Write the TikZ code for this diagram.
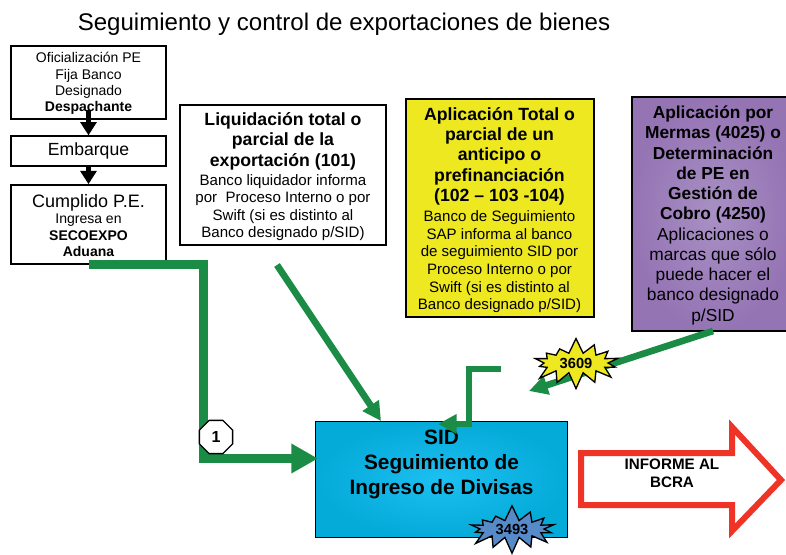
\documentclass[tikz,border=0pt]{standalone}
\usepackage{fontspec}
\setmainfont{Liberation Sans}
\usetikzlibrary{shapes.geometric,shapes.symbols,arrows.meta}
\definecolor{verde}{HTML}{1B8C45}
\definecolor{rojo}{HTML}{EF3327}
\definecolor{amarillo}{HTML}{EEE820}
\newcommand{\chica}{\fontsize{10.5}{12.3}\selectfont}
\newcommand{\media}{\fontsize{11.3}{13.2}\selectfont}
\newcommand{\grande}{\fontsize{13}{15.2}\selectfont}
\newcommand{\gb}[1]{{\fontsize{13.25}{15.2}\selectfont\bfseries #1}}
\begin{document}
\begin{tikzpicture}[x=0.75pt,y=-0.75pt]
    \tikzstyle{caja}=[rectangle,draw=black,line width=1.5pt,fill=white,inner sep=0pt,align=center]
    \tikzstyle{estrella}=[starburst,draw=black,line width=1pt,inner sep=0pt,starburst points=14,starburst point height=12pt,random starburst=7,font=\fontsize{11}{13}\selectfont\bfseries]
    \tikzstyle{flecha}=[draw=verde,line width=5pt,-{Triangle[length=14pt,width=14pt]}]
    \tikzstyle{negra}=[line width=3.2pt,-{Triangle[length=10pt,width=12pt]}]
    \useasboundingbox (0,0) rectangle (786,554);
    \node (titulo) at (344,24) {\fontsize{18.05}{21}\selectfont Seguimiento y control de exportaciones de bienes};
    \node (oficial)[caja,minimum width=116pt,minimum height=55pt,font=\chica] at (88.5,82.5) {\rule{0pt}{9.5pt}Oficialización PE\\Fija Banco\\Designado\\\textbf{Despachante}};
    \node (embarque)[caja,minimum width=116pt,minimum height=22pt,font=\fontsize{13.2}{15}\selectfont] at (88.5,151) {\raisebox{-1pt}{Embarque}};
    \node (cumplido)[caja,minimum width=116pt,minimum height=59pt,font=\chica] at (88.5,224.5) {\rule{0pt}{11.5pt}{\fontsize{13.5}{15}\selectfont Cumplido P.E.}\\Ingresa en\\\textbf{SECOEXPO}\\\textbf{Aduana}};
    \node (liquidacion)[caja,minimum width=155pt,minimum height=105pt,font=\media] at (283,174.5) {\rule{0pt}{13pt}\gb{Liquidación total o}\\[2.2pt]\gb{parcial de la}\\[2.2pt]\gb{exportación (101)}\\[0.8pt]Banco liquidador informa\\por\ \ Proceso Interno o por\\Swift (si es distinto al\\Banco designado p/SID)};
    \node (anticipo)[caja,fill=amarillo,minimum width=141pt,minimum height=163pt,font=\media] at (499.5,208) {\rule{0pt}{13pt}\gb{Aplicación Total o}\\[2pt]\gb{parcial de un}\\[2pt]\gb{anticipo o}\\[2pt]\gb{prefinanciación}\\[2pt]\gb{(102 -- 103 -104)}\\[2pt]Banco de Seguimiento\\SAP informa al banco\\de seguimiento SID por\\Proceso Interno o por\\Swift (si es distinto al\\Banco designado p/SID)};
    \node (mermas)[caja,shade,inner color={rgb,255:red,168;green,144;blue,196},outer color={rgb,255:red,149;green,116;blue,180},minimum width=121pt,minimum height=175pt,font=\grande] at (713,214) {\rule{0pt}{11.5pt}\textbf{Aplicación por}\\\textbf{Mermas (4025) o}\\\textbf{Determinación}\\\textbf{de PE en}\\\textbf{Gestión de}\\\textbf{Cobro (4250)}\\Aplicaciones o\\marcas que sólo\\puede hacer el\\banco designado\\p/SID};
    \node (sid)[caja,line width=1pt,shade,inner color={rgb,255:red,28;green,192;blue,242},outer color={rgb,255:red,4;green,170;blue,216},minimum width=189pt,minimum height=87pt,font=\fontsize{15.6}{18.8}\selectfont\bfseries] at (441.5,479.5) {SID\\Seguimiento de\\Ingreso de Divisas\\[7pt]\mbox{}};
    \draw [rojo,line width=4.5pt,fill=white,miter limit=10] (581,453) -- (732,453) -- (732,427) -- (781,480) -- (732,531) -- (732,505) -- (581,505) -- cycle;
    \node (informe)[align=center,font=\fontsize{11.4}{13.5}\selectfont\bfseries] at (672,473) {INFORME AL\\BCRA};
    % flechas negras
    \coordinate (oficial1) at (88.5,110);
    \draw [negra] (oficial1) -- (embarque.north);
    \draw [negra] (embarque.south) -- (cumplido.north);
    % flechas verdes
    \coordinate (giro) at (203.5,458.5);
    \coordinate (sid1) at (318,458.5);
    \coordinate (liq1) at (277,265);
    \coordinate (sid2) at (381,421);
    \coordinate (anticipo1) at (501,369);
    \coordinate (anticipo2) at (469,424);
    \coordinate (sid3) at (438,424);
    \coordinate (mermas1) at (713,331);
    \coordinate (mermas2) at (529,391);
    \draw [flecha,line width=6.8pt,-{Triangle[length=20pt,width=21pt]}] (cumplido.south) -| (giro) -- (sid1);
    \draw [flecha] (liq1) -- (sid2);
    \draw [flecha] (anticipo1) -| (anticipo2) -- (sid3);
    \draw [flecha] (mermas1) -- (mermas2);
    \node (uno)[regular polygon,regular polygon sides=8,draw=black,line width=1pt,fill=white,inner sep=0pt,minimum size=27pt,font=\fontsize{12}{14}\selectfont\bfseries] at (216,437) {1};
    \node (e3609)[estrella,fill=amarillo,minimum width=72pt,minimum height=39pt] at (576,363) {3609};
    \node (e3493)[estrella,fill={rgb,255:red,86;green,138;blue,200},minimum width=72pt,minimum height=37pt] at (512,529) {3493};
\end{tikzpicture}
\end{document}
